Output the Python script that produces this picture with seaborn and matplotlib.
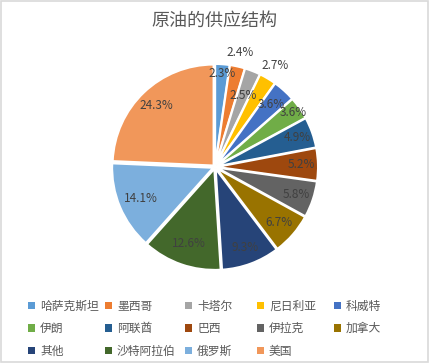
import matplotlib
matplotlib.use("Agg")
import matplotlib.pyplot as plt
import numpy as np
import seaborn as sns
from matplotlib.patches import Patch, Rectangle

# data (clockwise from 12 o'clock)
countries = ["哈萨克斯坦", "墨西哥", "卡塔尔", "尼日利亚", "科威特", "伊朗", "阿联酋",
             "巴西", "伊拉克", "加拿大", "其他", "沙特阿拉伯", "俄罗斯", "美国"]
shares = [2.3, 2.4, 2.5, 2.7, 3.6, 3.6, 4.9, 5.2, 5.8, 6.7, 9.3, 12.6, 14.1, 24.3]

# Excel-like palette
colors = ["#5B9BD5", "#ED7D31", "#A5A5A5", "#FFC000", "#4472C4", "#70AD47", "#255E91",
          "#9E480E", "#636363", "#997300", "#264478", "#43682B", "#7CAFDD", "#F1975A"]

# radial position of each percentage label (fraction of radius)
label_r = [0.93, 1.16, 0.76, 1.17, 0.83, 0.94, 0.86, 0.86, 0.85, 0.84, 0.85, 0.80, 0.80, 0.84]

sns.set_theme(style="white")
plt.rcParams["font.family"] = ["Noto Sans CJK SC", "DejaVu Sans"]

fig = plt.figure(figsize=(4.29, 3.63), dpi=100)
fig.patch.set_facecolor("white")
fig.patches.append(Rectangle((0.002, 0.003), 0.995, 0.993, transform=fig.transFigure,
                             fill=False, edgecolor="#D9D9D9", linewidth=1.2))

ax = fig.add_axes([0.2657, 0.2617, 0.4709, 0.5565])
wedges, texts, autotexts = ax.pie(
    shares, colors=colors, startangle=90, counterclock=False,
    explode=[0.02] * len(shares), autopct="%.1f%%", pctdistance=0.85,
    wedgeprops=dict(edgecolor="white", linewidth=1.5),
    textprops=dict(fontsize=8.5, color="#404040"))

# place labels along each wedge's mid angle at the chosen radius
total = sum(shares)
cum = np.cumsum([0] + shares[:-1])
for i, t in enumerate(autotexts):
    mid = (cum[i] + shares[i] / 2) / total * 360
    ang = np.deg2rad(90 - mid)
    t.set_position((label_r[i] * np.cos(ang), label_r[i] * np.sin(ang)))

ax.set_xlim(-1.0, 1.0)
ax.set_ylim(-1.0, 1.0)
ax.axis("off")

fig.text(0.5, 0.943, "原油的供应结构", ha="center", va="center",
         fontsize=13, color="#595959")

# legend, 5 equal-width columns like Excel
col_x = [0.066, 0.245, 0.432, 0.599, 0.779]
for c in range(5):
    idx = [i for i in (c, c + 5, c + 10) if i < len(countries)]
    handles = [Patch(facecolor=colors[i], edgecolor="none") for i in idx]
    fig.legend(handles, [countries[i] for i in idx], loc="upper left",
               bbox_to_anchor=(col_x[c], 0.174), frameon=False, fontsize=8.5,
               handlelength=0.6, handleheight=0.6, handletextpad=0.4,
               labelspacing=0.8, borderpad=0, borderaxespad=0,
               labelcolor="#595959")

fig.savefig("out.png", dpi=100)
plt.close(fig)
